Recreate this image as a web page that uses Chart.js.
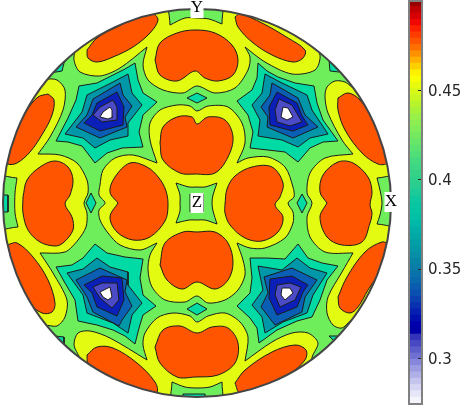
<!DOCTYPE html>
<html>
<head>
<meta charset="utf-8">
<title>Pole figure</title>
<script src="https://cdn.jsdelivr.net/npm/chart.js@4/dist/chart.umd.min.js"></script>
<style>
  html, body { margin: 0; padding: 0; background: #fff; }
  canvas { position: absolute; top: 0; }
  #disc { left: 0; }
  #bar { left: 400px; }
</style>
</head>
<body>
<canvas id="disc" width="400" height="406"></canvas>
<canvas id="bar" width="61" height="406"></canvas>
<script>
// contours, flat x,y lists in pole figure units (radius 194, y up)

// outer yellow band, one piece per side, overshoots the rim
const yellowTop = [-137,178, -122,160, -123,143, -117,131, -97,127, -77,135, -50,156, -50,156, -54,138, -49,123, -34,113, -14,110, 0,117, 18,110, 38,115, 51,133, 53,146, 48,156, 48,156, 68,141, 95,129, 118,133, 123,148, 113,163, 133,178, 0,213];
const yellowRight = [173,128, 158,115, 148,121, 138,122, 130,116, 128,106, 131,90, 145,63, 156,49, 156,49, 128,45, 113,30, 110,10, 115,0, 110,-14, 113,-34, 128,-49, 156,-50, 156,-50, 145,-69, 131,-94, 130,-110, 136,-122, 145,-125, 158,-115, 175,-127, 213,0];
const yellowBottom = [-137,-182, -117,-159, -123,-142, -119,-130, -107,-128, -87,-135, -50,-157, -50,-157, -54,-142, -52,-130, -40,-115, -24,-110, -7,-113, 0,-119, 11,-113, 28,-110, 43,-119, 51,-134, 48,-158, 48,-158, 75,-139, 95,-130, 111,-130, 121,-140, 115,-157, 133,-182, 0,-217];
const yellowLeft = [-172,128, -162,111, -152,123, -140,123, -132,113, -134,93, -147,66, -159,49, -159,49, -137,48, -120,40, -110,23, -109,10, -113,0, -110,-10, -111,-24, -119,-37, -132,-49, -157,-50, -157,-50, -144,-70, -130,-97, -132,-114, -140,-123, -152,-123, -172,-142, -215,0];
// inner yellow ring round the four central lobes
const yellowRing = [-40,40, -40,40, -47,63, -47,80, -37,93, -20,98, -7,97, 0,92, 11,97, 31,96, 45,80, 48,60, 40,40, 40,40, 51,45, 71,46, 88,36, 96,16, 97,6, 91,0, 96,-9, 96,-20, 88,-35, 68,-45, 53,-45, 40,-40, 40,-40, 46,-57, 48,-72, 41,-87, 28,-97, 11,-100, 0,-93, -12,-99, -32,-97, -45,-84, -49,-67, -47,-52, -40,-40, -40,-40, -57,-47, -77,-42, -89,-30, -97,-17, -98,-7, -92,0, -98,8, -97,18, -94,33, -82,45, -64,48, -40,40];

// green patches on top of the yellow
const greenCentre = [-21,20, -21,20, -8,16, 0,16, 8,16, 20,20, 20,20, 16,8, 15,0, 16,-8, 20,-21, 20,-21, 8,-17, 0,-17, -8,-17, -21,-20, -21,-20, -17,-8, -17,0, -17,8];
const greenNorth = [-27,178, -27,178, -12,185, 0,185, 12,184, 25,179, 25,179, 24,215, -27,215];
const greenEast = [180,25, 180,25, 183,13, 185,0, 183,-12, 180,-21, 180,-21, 215,-23, 215,27];
const greenSouth = [-25,-179, -25,-179, -12,-184, 0,-185, 13,-184, 25,-179, 25,-179, 24,-215, -25,-215];
const greenWest = [-180,25, -180,25, -182,10, -182,-10, -179,-24, -179,-24, -215,-26, -215,27];

// small teal patches
const tealDiagNW = [-147,130, -135,132, -133,140, -125,150];
const tealDiagNE = [132,143, 133,132, 142,131, 150,150];
const tealDiagSW = [-142,-133, -133,-134, -133,-142, -150,-150];
const tealDiagSE = [132,-133, 141,-133, 133,-141, 150,-150];
const tealRimWest = [-189,8, -189,-9, -210,-9, -210,8];
const tealRimSouth = [-14,-191, 8,-191, 10,-210, -15,-210];
const centrePatch = [-7,9, 6,9, 6,-9, -7,-9];
const diamondWest = [-106,10, -101,0, -106,-10, -111,0];
const diamondEast = [105,9, 110,0, 105,-10, 100,0];
const diamondNorth = [-10,105, 0,110, 10,105, 0,100];
const diamondSouth = [-10,-106, 0,-100, 10,-106, 0,-112];

// the four minima, nested contours outer to inner
const starNW1 = [-62,140, -72,134, -84,128, -100,120, -118,117, -121,103, -129,85, -141,62, -129,61, -115,57, -102,40, -90,50, -75,55, -54,56, -58,71, -54,88, -40,101, -54,110, -59,123];
const starNW2 = [-69,129, -84,121, -110,108, -115,91, -132,69, -114,65, -102,55, -87,63, -69,67, -69,80, -55,98, -65,110];
const starNW3 = [-77,120, -104,104, -110,88, -121,76, -97,65, -70,76, -72,86, -65,97, -74,108];
const starNW4 = [-80,111, -100,100, -105,88, -113,80, -97,72, -74,78, -73,96];
const starNW5 = [-84,103, -97,96, -104,88, -95,81, -80,83, -80,96];
const starNW6 = [-87,96, -94,91, -97,86, -89,84, -84,86, -85,93];

const starNE1 = [61,140, 70,132, 81,126, 98,120, 117,117, 120,100, 126,83, 141,62, 126,61, 113,55, 101,41, 88,51, 71,53, 53,55, 56,71, 51,88, 40,102, 55,113, 60,125];
const starNE2 = [68,129, 83,121, 110,108, 115,93, 131,69, 113,65, 101,56, 85,63, 61,67, 63,83, 55,98, 65,110];
const starNE3 = [75,120, 101,105, 108,88, 121,76, 96,65, 70,76, 71,86, 64,96, 73,108];
const starNE4 = [80,111, 100,100, 105,87, 111,78, 96,72, 73,78, 72,96];
const starNE5 = [82,104, 95,98, 105,81, 93,77, 80,81, 78,93];
const starNE6 = [86,96, 91,95, 96,86, 90,83, 84,86];

const starSW1 = [-141,-64, -125,-62, -114,-55, -102,-41, -90,-50, -72,-54, -54,-56, -57,-75, -54,-92, -41,-103, -54,-112, -58,-125, -62,-141, -72,-133, -84,-127, -100,-122, -119,-118, -122,-97, -132,-80];
const starSW2 = [-130,-70, -114,-66, -100,-55, -87,-64, -69,-69, -69,-82, -55,-100, -65,-112, -69,-130, -84,-120, -110,-110, -114,-92];
const starSW3 = [-121,-77, -97,-65, -70,-77, -72,-89, -65,-103, -75,-117, -78,-123, -104,-109, -110,-94];
const starSW4 = [-113,-82, -95,-73, -75,-75, -73,-97, -80,-113, -100,-104, -105,-90];
const starSW5 = [-104,-84, -95,-80, -80,-80, -78,-97, -85,-105, -97,-95];
const starSW6 = [-97,-89, -87,-84, -85,-94, -89,-97, -94,-94];

const starSE1 = [53,-55, 70,-55, 88,-56, 101,-41, 111,-55, 125,-60, 141,-63, 130,-77, 123,-97, 115,-114, 100,-118, 80,-127, 62,-140, 60,-125, 53,-115, 40,-103, 53,-90, 55,-75];
const starSE2 = [61,-63, 85,-67, 100,-55, 113,-65, 130,-70, 116,-92, 110,-110, 86,-119, 68,-130, 65,-114, 55,-102, 66,-87];
const starSE3 = [67,-74, 95,-65, 120,-77, 108,-94, 105,-109, 78,-122, 64,-104, 71,-90];
const starSE4 = [73,-76, 95,-73, 111,-82, 106,-89, 100,-104, 80,-112, 72,-95];
const starSE5 = [80,-82, 93,-80, 104,-84, 98,-97, 83,-104, 78,-92];
const starSE6 = [85,-85, 93,-85, 96,-90, 88,-97, 84,-92];

// maxima
const lobeInnerTop = [-37,60, -34,76, -20,86, -5,86, 0,79, 11,86, 28,83, 36,66, 31,46, 18,30, -2,29, -17,30, -34,43];
const lobeInnerLeft = [-79,0, -87,11, -82,26, -67,40, -50,36, -38,25, -31,12, -29,-3, -32,-18, -47,-34, -64,-37, -80,-29, -87,-14];
const lobeInnerRight = [28,-1, 30,14, 38,27, 55,36, 75,36, 86,20, 83,6, 78,-2, 86,-14, 81,-29, 65,-38, 48,-35, 33,-22, 28,-10];
const lobeInnerBottom = [-37,-62, -32,-40, -14,-29, 0,-29, 18,-29, 31,-40, 36,-60, 31,-77, 18,-86, 0,-79, -15,-86, -30,-77];
const lobeOuterTop = [-42,143, -37,160, -20,170, -2,173, 18,170, 35,158, 41,143, 36,128, 21,122, 8,125, -2,132, -20,122, -37,128];
const lobeOuterLeft = [-174,6, -170,23, -157,36, -142,42, -129,36, -124,23, -127,8, -132,-1, -125,-14, -124,-27, -134,-40, -142,-43, -157,-39, -169,-27, -174,-10];
const lobeOuterRight = [130,0, 123,11, 126,28, 141,41, 156,40, 171,26, 175,11, 173,-2, 175,-10, 173,-20, 165,-39, 145,-42, 130,-34, 123,-14];
const lobeOuterBottom = [-42,-144, -34,-127, -17,-123, 0,-130, 15,-124, 31,-125, 41,-140, 38,-160, 21,-172, -2,-174, -20,-174, -37,-160];
const ovalNNW = [-110,153, -100,165, -80,176, -57,186, -44,189, -39,183, -47,170, -64,156, -84,146, -100,141, -109,145];
const ovalWNW = [-149,109, -143,103, -145,88, -154,70, -167,51, -180,40, -189,39, -190,46, -184,70, -170,93, -159,106];
const ovalNNE = [38,186, 43,189, 65,180, 91,165, 108,153, 106,145, 96,141, 75,148, 55,161, 41,176];
const ovalENE = [141,105, 151,110, 163,103, 178,80, 188,53, 190,40, 181,39, 165,50, 148,73, 141,93];
const ovalWSW = [-190,-42, -180,-40, -164,-54, -149,-77, -142,-100, -145,-109, -155,-110, -169,-99, -184,-75, -189,-57];
const ovalSSW = [-110,-152, -100,-144, -84,-145, -60,-160, -42,-179, -40,-189, -50,-190, -74,-182, -97,-170, -109,-160];
const ovalESE = [141,-94, 150,-74, 168,-49, 185,-39, 191,-42, 188,-60, 171,-87, 161,-104, 153,-110, 143,-105];
const ovalSSE = [38,-180, 48,-167, 75,-149, 98,-142, 109,-147, 108,-157, 91,-172, 65,-185, 43,-190];

// colour bar: band edges bottom to top, and the colour of each band
const barEdges = [.2742,.2777,.2813,.2848,.2883,.2918,.2954,.2989,.3024,.3059,.3095,.3130,.3165,.3200,.3236,.3271,.3306,.3341,.3377,.3412,.3447,.3482,.3518,.3553,.3588,.3623,.3659,.3694,.3729,.3764,.3800,.3835,.3870,.3905,.3941,.3976,.4011,.4046,.4082,.4117,.4152,.4187,.4223,.4258,.4293,.4328,.4364,.4399,.4434,.4469,.4505,.4540,.4575,.4610,.4646,.4681,.4716,.4751,.4787,.4822,.4857,.4892,.4928,.4963,.4998];
const barColors = ['#F4F4FD','#E6E6F9','#D6D6F4','#C4C4EF','#B0B0E9','#9C9CE2','#8686DB','#7070D3','#5C5CCB','#4848C3','#3434BB','#0000A8','#0000AC','#0010AF','#0520B0','#0830B0','#0A40B0','#0A50B0','#0A5CAE','#0A68AC','#0A72AA','#0A7CA8','#0885A6','#068FA6','#0498A6','#02A0A6','#00A8A6','#00B0A8','#00B8A8','#00C0A6','#04C4A4','#08C6A2','#10C8A0','#1CCB98','#28CE90','#2ED08C','#34D388','#3CD684','#44DA80','#50DE78','#5CE270','#68E668','#74E960','#80EC58','#8CEE50','#98F048','#A8F238','#B8F42C','#C8F620','#D8F818','#E8FB0C','#F8FE04','#FFF000','#FFD000','#FFB000','#FF9000','#FF7000','#FF5500','#FF3C00','#FF2000','#F00800','#D80000','#C00000','#980000'];
const barTicks = [0.3, 0.35, 0.4, 0.45];

const axisLabels = ['X', 'Y', 'Z'];
const axisLabelAt = [[194, 1], [0, 195], [0, 0]];

const GREEN = '#6FEE5C', YELLOW = '#E3FB11', ORANGE = '#FF5500', SEA = '#00DBA5';
const TEAL = '#0098A8', BLUE = '#0A5FB4', NAVY = '#0A20B8', PURPLE = '#4B4BC8';

// paint order, bottom first
const layers = [
    { color: YELLOW, tension: 0.3, shapes: [yellowTop, yellowRight, yellowBottom, yellowLeft, yellowRing] },
    { color: GREEN, tension: 0.3, shapes: [greenCentre, greenNorth, greenEast, greenSouth, greenWest] },
    { color: SEA, tension: 0, shapes: [tealDiagNW, tealDiagNE, tealDiagSW, tealDiagSE, tealRimWest, tealRimSouth, diamondWest, diamondEast, diamondNorth, diamondSouth] },
    { color: GREEN, tension: 0, shapes: [centrePatch] },
    { color: SEA, tension: 0, shapes: [starNW1, starNE1, starSW1, starSE1] },
    { color: TEAL, tension: 0, shapes: [starNW2, starNE2, starSW2, starSE2] },
    { color: BLUE, tension: 0, shapes: [starNW3, starNE3, starSW3, starSE3] },
    { color: NAVY, tension: 0, shapes: [starNW4, starNE4, starSW4, starSE4] },
    { color: PURPLE, tension: 0, shapes: [starNW5, starNE5, starSW5, starSE5] },
    { color: '#FFFFFF', tension: 0, shapes: [starNW6, starNE6, starSW6, starSE6] },
    { color: ORANGE, tension: 0.35, shapes: [lobeInnerTop, lobeInnerLeft, lobeInnerRight, lobeInnerBottom, lobeOuterTop, lobeOuterLeft, lobeOuterRight, lobeOuterBottom, ovalNNW, ovalWNW, ovalNNE, ovalENE, ovalWSW, ovalSSW, ovalESE, ovalSSE] }
];

function toPoints(flat) {
    const pts = [];
    for (let i = 0; i < flat.length; i += 2) pts.push({ x: flat[i], y: flat[i + 1] });
    pts.push({ x: flat[0], y: flat[1] });
    return pts;
}

const datasets = [];
layers.forEach(layer => layer.shapes.forEach(shape => {
    datasets.push({
        data: toPoints(shape),
        showLine: true,
        fill: 'shape',
        backgroundColor: layer.color,
        borderColor: '#1c1c1c',
        borderWidth: 1,
        pointRadius: 0,
        tension: layer.tension,
        order: -datasets.length // chart.js paints the lowest order last
    });
}));

const discFrame = {
    id: 'discFrame',
    beforeDatasetsDraw(chart) {
        const { ctx, scales: { x, y } } = chart;
        const r = x.getPixelForValue(194) - x.getPixelForValue(0);
        ctx.save();
        ctx.beginPath();
        ctx.arc(x.getPixelForValue(0), y.getPixelForValue(0), r, 0, Math.PI * 2);
        ctx.fillStyle = GREEN;
        ctx.fill();
        ctx.clip();
    },
    afterDatasetsDraw(chart) {
        const { ctx, scales: { x, y } } = chart;
        ctx.restore();
        const r = x.getPixelForValue(194) - x.getPixelForValue(0);
        ctx.beginPath();
        ctx.arc(x.getPixelForValue(0), y.getPixelForValue(0), r, 0, Math.PI * 2);
        ctx.strokeStyle = '#444444';
        ctx.lineWidth = 2;
        ctx.stroke();
        ctx.font = '17px "Liberation Serif"';
        ctx.textAlign = 'center';
        ctx.textBaseline = 'middle';
        axisLabels.forEach((label, i) => {
            const px = x.getPixelForValue(axisLabelAt[i][0]);
            const py = y.getPixelForValue(axisLabelAt[i][1]);
            ctx.fillStyle = '#FFFFFF';
            ctx.fillRect(px - 6.5, py - 10, 13, 20);
            ctx.fillStyle = '#000000';
            ctx.fillText(label, px, py);
        });
    }
};

new Chart(document.getElementById('disc'), {
    type: 'scatter',
    data: { datasets },
    plugins: [discFrame],
    options: {
        responsive: false,
        animation: false,
        layout: { padding: 0 },
        plugins: { legend: { display: false }, tooltip: { enabled: false } },
        scales: {
            x: { type: 'linear', min: -197, max: 203, display: false },
            y: { type: 'linear', min: -203, max: 203, display: false }
        }
    }
});

const barFrame = {
    id: 'barFrame',
    afterDatasetsDraw(chart) {
        const { ctx, chartArea: a, scales: { y } } = chart;
        ctx.strokeStyle = '#262626';
        ctx.lineWidth = 1;
        barTicks.forEach(t => {
            const py = Math.round(y.getPixelForValue(t)) + 0.5;
            ctx.beginPath();
            ctx.moveTo(a.right - 4, py);
            ctx.lineTo(a.right, py);
            ctx.stroke();
        });
        ctx.strokeStyle = '#808080';
        ctx.lineWidth = 2;
        ctx.strokeRect(a.left, a.top, a.right - a.left, a.bottom - a.top);
    }
};

new Chart(document.getElementById('bar'), {
    type: 'bar',
    data: {
        labels: [''],
        datasets: barColors.map((color, i) => ({
            data: [[barEdges[i], barEdges[i + 1]]],
            backgroundColor: color,
            barPercentage: 1,
            categoryPercentage: 1,
            grouped: false,
            inflateAmount: 1
        }))
    },
    plugins: [barFrame],
    options: {
        responsive: false,
        animation: false,
        layout: { autoPadding: false, padding: { left: 9, top: 1, bottom: 2, right: 0 } },
        plugins: { legend: { display: false }, tooltip: { enabled: false } },
        scales: {
            x: { display: false, stacked: false },
            y: {
                position: 'right',
                min: barEdges[0],
                max: barEdges[barEdges.length - 1],
                afterBuildTicks(scale) { scale.ticks = barTicks.map(value => ({ value })); },
                afterFit(scale) {
                    scale.width = 39;
                    scale.paddingTop = 0;
                    scale.paddingBottom = 0;
                },
                grid: { display: false, drawTicks: false, tickLength: 0 },
                border: { display: false },
                ticks: {
                    color: '#262626',
                    padding: 6,
                    labelOffset: 2,
                    font: { family: '"DejaVu Sans"', size: 15 },
                    callback: value => String(value)
                }
            }
        }
    }
});
</script>
</body>
</html>
